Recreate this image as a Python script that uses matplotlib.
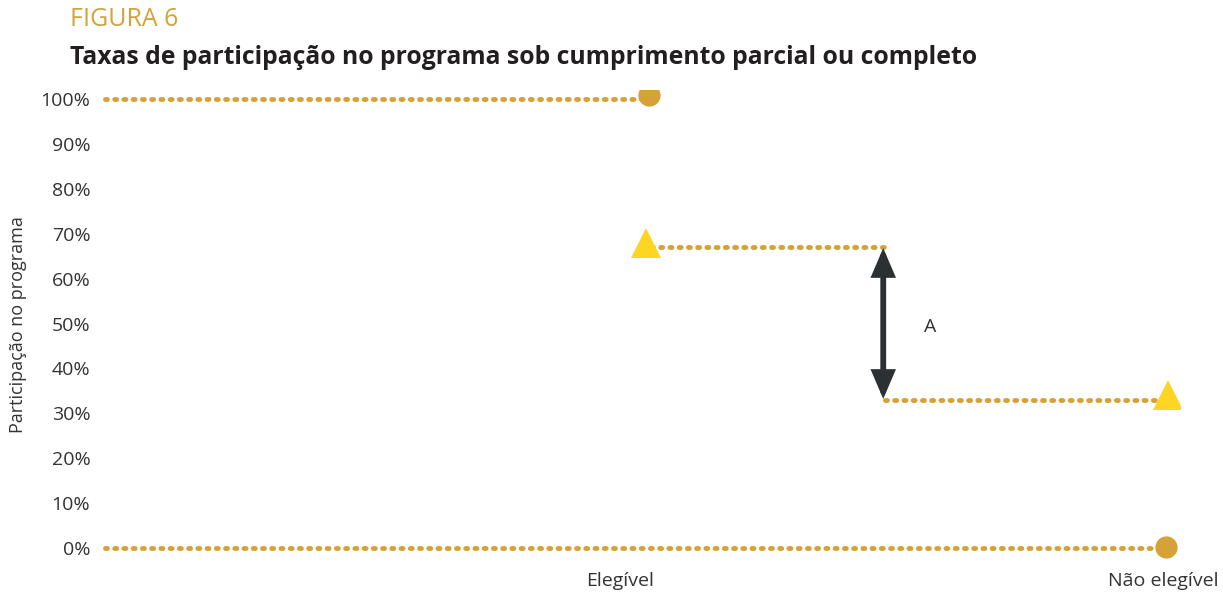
import matplotlib
matplotlib.use("Agg")
import matplotlib.pyplot as plt

# Data
y_ticks = [0, 10, 20, 30, 40, 50, 60, 70, 80, 90, 100]
y_tick_labels = [f"{v}%" for v in y_ticks]
x_tick_pos = [0.97, 1.995]
x_tick_labels = ["Elegível", "Não elegível"]

full_line_x = [0.0, 1.02]
full_line_y = [100, 100]
zero_line_x = [0.0, 2.0]
zero_line_y = [0, 0]
partial_elig_x = [1.03, 1.468]
partial_elig_y = [67, 67]
partial_nonelig_x = [1.47, 2.0]
partial_nonelig_y = [33, 33]

circle_x = [1.025, 2.0]
circle_y = [101, 0.3]
tri_x = [1.02, 2.004]
tri_y = [68, 34]

arrow_x = 1.467
arrow_top = 66.8
arrow_bottom = 33.2

gold = "#D6A237"
yellow = "#FFD524"
dark = "#2B3033"
text_c = "#333333"

FONT = ["Open Sans", "DejaVu Sans"]
plt.rcParams["font.family"] = FONT

fig = plt.figure(figsize=(12.23, 5.94), dpi=100)
W, H = 1223, 594
ax = fig.add_axes([100 / W, 1 - 560 / H, 1080 / W, 470 / H])
ax.set_xlim(-5 / 530.5, 1075 / 530.5)
ax.set_ylim(-12 / 4.49, 100 + 9 / 4.49)

dot = dict(color=gold, lw=3.5, linestyle=(0, (0.4, 1.5)), dash_capstyle="round", solid_capstyle="round")
ax.plot(full_line_x, full_line_y, **dot)
ax.plot(zero_line_x, zero_line_y, **dot)
ax.plot(partial_elig_x, partial_elig_y, **dot)
ax.plot(partial_nonelig_x, partial_nonelig_y, **dot)

ax.plot(circle_x, circle_y, "o", color=gold, markersize=16, markeredgewidth=0, zorder=5)
ax.plot(tri_x, tri_y, "^", color=yellow, markersize=22, markeredgewidth=0, zorder=5)

ax.annotate("", xy=(arrow_x, arrow_bottom), xytext=(arrow_x, arrow_top),
            arrowprops=dict(arrowstyle="<|-|>,head_width=0.3,head_length=0.7",
                            lw=4.2, color=dark, shrinkA=0, shrinkB=0, mutation_scale=20,
                            joinstyle="miter"))
ax.text(1.555, 49.2, "A", fontsize=14, color=text_c, ha="center", va="center")

for s in ax.spines.values():
    s.set_visible(False)
ax.set_yticks(y_ticks)
ax.set_yticklabels(y_tick_labels, fontsize=14, color=text_c)
ax.set_xticks(x_tick_pos)
ax.set_xticklabels(x_tick_labels, fontsize=14, color=text_c)
ax.tick_params(length=0, pad=7)
ax.tick_params(axis="x", pad=9)
ax.set_ylabel("Participação no programa", fontsize=13, color=text_c, labelpad=10)

fig.text(70 / W, 1 - 19 / H, "FIGURA 6", fontsize=18, color=gold, ha="left", va="center")
fig.text(70 / W, 1 - 57 / H, "Taxas de participação no programa sob cumprimento parcial ou completo",
         fontsize=17.8, fontweight="bold", color="#231F20", ha="left", va="center")

fig.savefig("out.png", dpi=100)
